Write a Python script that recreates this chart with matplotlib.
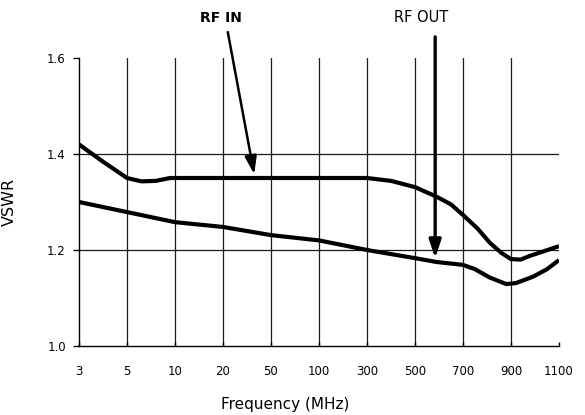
import matplotlib
matplotlib.use("Agg")
import matplotlib.pyplot as plt

# Category axis (equally spaced frequency labels)
freq_labels = ["3", "5", "10", "20", "50", "100", "300", "500", "700", "900", "1100"]

# RF IN curve: positions along the category axis (index units) and VSWR
rf_in_pos = [0, 0.5, 1, 1.3, 1.6, 1.9, 2, 3, 4, 5, 6, 6.5, 7, 7.45, 7.75, 8, 8.3,
             8.56, 8.8, 9, 9.2, 9.4, 9.7, 10]
rf_in_vswr = [1.420, 1.384, 1.350, 1.343, 1.344, 1.350, 1.350, 1.350, 1.350, 1.350,
              1.350, 1.344, 1.331, 1.311, 1.295, 1.273, 1.245, 1.215, 1.194, 1.181,
              1.180, 1.188, 1.198, 1.208]

# RF OUT curve
rf_out_pos = [0, 1, 2, 3, 4, 5, 6, 7, 7.45, 8, 8.25, 8.55, 8.9, 9.1, 9.45, 9.75, 10]
rf_out_vswr = [1.300, 1.279, 1.258, 1.248, 1.231, 1.220, 1.200, 1.183, 1.175, 1.169,
               1.160, 1.143, 1.129, 1.131, 1.144, 1.160, 1.179]

y_ticks = [1.0, 1.2, 1.4, 1.6]
y_tick_labels = ["1.0", "1.2", "1.4", "1.6"]
h_grid = [1.2, 1.4]
v_grid = list(range(1, 10))

fig = plt.figure(figsize=(5.85, 4.15), dpi=100)
ax = fig.add_axes([79/585, 1 - 346/415, 480/585, 288/415])

for yv in h_grid:
    ax.axhline(yv, color="#1a1a1a", lw=0.9, zorder=1)
for xv in v_grid:
    ax.axvline(xv, color="#1a1a1a", lw=0.9, zorder=1)

ax.plot(rf_in_pos, rf_in_vswr, color="black", lw=3.0, solid_capstyle="butt", zorder=3)
ax.plot(rf_out_pos, rf_out_vswr, color="black", lw=3.0, solid_capstyle="butt", zorder=3)

ax.set_xlim(0, 10)
ax.set_ylim(1.0, 1.6)
ax.set_xticks(range(len(freq_labels)))
ax.set_xticklabels(freq_labels)
ax.set_yticks(y_ticks)
ax.set_yticklabels(y_tick_labels)

for s in ("top", "right"):
    ax.spines[s].set_visible(False)
for s in ("left", "bottom"):
    ax.spines[s].set_linewidth(1.0)
    ax.spines[s].set_color("black")

ax.tick_params(axis="x", direction="in", length=3, width=1, pad=14, labelsize=8.5)
ax.tick_params(axis="y", direction="out", length=4.5, width=1, pad=5, labelsize=8.5)

ax.set_xlabel("Frequency (MHz)", fontsize=11)
ax.xaxis.set_label_coords((285 - 79) / 480, -0.177)
ax.set_ylabel("VSWR", fontsize=11.5)
ax.yaxis.set_label_coords(-0.129, 0.5)

# Annotations
arrow_kw = dict(arrowstyle="-|>,head_length=0.9,head_width=0.3", color="black",
                lw=1.8, shrinkA=0, shrinkB=0, mutation_scale=12)
ax.annotate("", xy=(3.65, 1.358), xytext=(3.10, 1.654), arrowprops=arrow_kw,
            annotation_clip=False)
ax.annotate("", xy=(7.42, 1.183), xytext=(7.42, 1.644),
            arrowprops=dict(arrow_kw, lw=2.4), annotation_clip=False)
ax.text(2.96, 1.684, "RF IN", ha="center", va="center", fontsize=10,
        fontweight="bold", clip_on=False)
ax.text(7.125, 1.684, "RF OUT", ha="center", va="center", fontsize=10.5,
        clip_on=False)

fig.savefig("out.png", dpi=100)
